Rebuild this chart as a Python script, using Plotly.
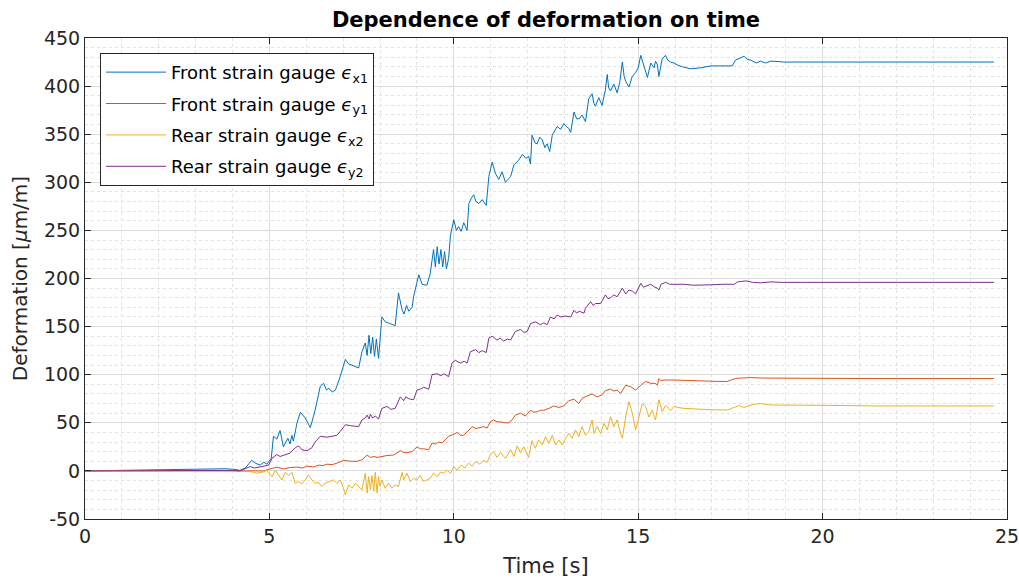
import plotly.graph_objects as go

# ---------------- data (time [s], deformation [um/m]) ----------------
series_names = [
    "Front strain gauge <i>ϵ</i><sub>x1</sub>",
    "Front strain gauge <i>ϵ</i><sub>y1</sub>",
    "Rear strain gauge <i>ϵ</i><sub>x2</sub>",
    "Rear strain gauge <i>ϵ</i><sub>y2</sub>",
]
series_colors = ["#0072BD", "#D95319", "#EDB120", "#7E2F8E"]

front_x1 = [(0,0),(0.5,0.3),(1.0,0),(1.5,0.4),(2.0,0.8),(2.3,1.5),(2.7,1.2),(3.0,1.8),(3.4,1.5),(3.8,2.2),(4.1,1.5),(4.2,0.5),(4.35,3),(4.52,11),(4.62,8),(4.75,6),(4.85,9),(4.93,7),(5.05,13),(5.11,36),(5.2,33),(5.29,42),(5.38,25),(5.45,30),(5.5,34),(5.56,28),(5.61,37),(5.65,31),(5.75,50),(5.84,61),(5.97,55),(6.11,45),(6.24,63),(6.38,88),(6.47,91),(6.55,84),(6.61,86),(6.7,82),(6.79,84),(6.92,98),(7.06,116),(7.15,111),(7.24,110),(7.42,107),(7.51,124),(7.6,133),(7.65,120),(7.7,141),(7.75,122),(7.8,139),(7.85,119),(7.9,137),(7.96,117),(8.05,160),(8.14,155),(8.28,153),(8.41,151),(8.5,185),(8.6,167),(8.65,163),(8.72,172),(8.78,166),(8.87,170),(8.91,181),(9.05,204),(9.14,194),(9.27,193),(9.36,205),(9.45,230),(9.5,212),(9.55,233),(9.6,215),(9.65,230),(9.7,212),(9.75,228),(9.8,210),(9.86,221),(9.91,245),(10.0,261),(10.07,250),(10.13,254),(10.2,249),(10.27,258),(10.36,250),(10.41,278),(10.48,284),(10.54,287),(10.6,280),(10.68,278),(10.77,282),(10.88,276),(10.95,306),(11.04,321),(11.13,309),(11.22,303),(11.31,311),(11.4,300),(11.47,303),(11.54,306),(11.63,318),(11.7,321),(11.76,323),(11.86,329),(11.95,325),(12.03,327),(12.08,319),(12.12,349),(12.2,341),(12.26,340),(12.33,347),(12.4,344),(12.47,336),(12.53,340),(12.6,332),(12.67,349),(12.8,358),(12.9,355),(12.98,361),(13.05,358),(13.12,356),(13.17,352),(13.26,373),(13.33,366),(13.4,366),(13.48,370),(13.57,363),(13.66,387),(13.75,392),(13.8,382),(13.84,379),(13.93,388),(14.02,380),(14.11,396),(14.16,412),(14.2,398),(14.25,395),(14.34,402),(14.43,393),(14.5,404),(14.57,425),(14.62,410),(14.66,405),(14.75,399),(14.84,410),(14.93,414),(15.0,419),(15.07,432),(15.16,420),(15.25,409),(15.34,424),(15.43,419),(15.47,426),(15.52,422),(15.56,410),(15.65,428),(15.74,432),(15.8,427),(15.88,425),(15.97,424),(16.06,422),(16.2,420),(16.42,418),(16.69,419),(16.97,421),(17.3,421),(17.55,421),(17.64,427),(17.75,429),(17.87,431),(17.95,428),(18.05,427),(18.2,424),(18.32,426),(18.45,424),(18.6,426),(18.95,425),(19.5,425),(20,425),(21,425),(22,425),(23,425),(24,425),(24.65,425)]

front_y1 = [(0,0),(1,0),(2,0.3),(3,0),(4,0.2),(4.5,0),(4.84,0),(5.02,2),(5.2,4),(5.38,2),(5.56,3.5),(5.75,4),(5.9,3),(6.02,5),(6.2,4),(6.33,6),(6.45,5.5),(6.56,7),(6.7,6.5),(6.83,8),(7.01,11),(7.2,10),(7.38,10),(7.51,11.5),(7.65,16.5),(7.74,14),(7.83,15),(7.92,14),(8.05,15),(8.19,16),(8.37,16.5),(8.55,21),(8.64,19),(8.73,19),(8.87,20),(9.0,25),(9.09,23),(9.18,23),(9.32,22),(9.41,29),(9.5,28),(9.59,30),(9.68,29),(9.77,32),(9.86,36),(10.0,38),(10.09,40),(10.18,37),(10.27,37),(10.41,42.5),(10.5,46),(10.6,44),(10.68,44.5),(10.81,46),(10.9,44.5),(10.99,51),(11.08,53),(11.17,51),(11.27,51),(11.38,50),(11.49,50),(11.58,53),(11.67,58),(11.81,60),(11.94,57),(12.08,63),(12.17,61),(12.26,61.5),(12.35,63),(12.44,63),(12.58,65),(12.71,67.5),(12.85,66),(12.98,67.5),(13.12,73),(13.26,74.5),(13.39,70),(13.48,75.5),(13.62,78),(13.75,80),(13.89,77),(14.02,79),(14.11,83.5),(14.25,85),(14.34,83),(14.43,84),(14.52,80.5),(14.66,89),(14.8,87.5),(14.93,84),(15.07,89),(15.2,93),(15.34,91),(15.47,91),(15.52,89),(15.56,96),(15.61,94),(15.7,94.5),(15.97,94.5),(16.24,94),(16.6,94),(17.15,93),(17.42,93),(17.55,95),(17.69,96.3),(18.05,97),(18.4,96.5),(18.96,96.3),(19.5,96),(20.5,96),(21.5,96),(22.5,96),(23.5,96),(24.65,96)]

rear_x2 = [(0,0),(1,0.2),(2,0),(3,0.3),(4,0),(4.48,-0.7),(4.66,-2.4),(4.84,-1),(4.93,0.7),(5.07,-6),(5.16,0.7),(5.25,-5),(5.34,-9.4),(5.43,-1.4),(5.52,-5),(5.61,-1.4),(5.7,-12.8),(5.79,-11),(5.88,-13.5),(5.97,-9.4),(6.06,-4),(6.15,-9.4),(6.24,-12.8),(6.33,-12),(6.42,-16.3),(6.51,-12.8),(6.61,-11),(6.74,-9.4),(6.83,-12.8),(6.92,-9.4),(7.01,-18),(7.06,-25),(7.15,-14.5),(7.24,-18),(7.33,-12.8),(7.42,-16.3),(7.51,-19.7),(7.6,-2.4),(7.65,-23),(7.69,-6),(7.74,-19.7),(7.78,-5),(7.83,-21),(7.87,-1.4),(7.92,-23),(7.96,-6),(8.0,-16),(8.05,-9.4),(8.14,-18),(8.23,-12.8),(8.32,-18),(8.41,-14.5),(8.5,-16),(8.6,-1.4),(8.64,-9.4),(8.73,-2.4),(8.82,-11),(8.91,-7.7),(9.0,-9.4),(9.09,-5),(9.18,-11),(9.27,-9.4),(9.36,-7.7),(9.45,-2.4),(9.55,-6),(9.64,-1.4),(9.73,-2.4),(9.82,0.7),(9.91,-2.4),(10.0,4.5),(10.09,0.7),(10.2,6),(10.3,3),(10.4,8),(10.5,5),(10.6,10),(10.7,7),(10.8,11),(10.9,9),(10.99,16.6),(11.08,20),(11.17,14),(11.27,19),(11.4,13),(11.54,22),(11.63,15),(11.72,26),(11.81,19),(11.9,25),(12.03,14),(12.12,31.5),(12.21,23.5),(12.3,32),(12.4,27),(12.49,35.6),(12.58,28.6),(12.67,37),(12.76,27),(12.85,32),(12.94,27),(13.03,34),(13.12,39),(13.21,34),(13.3,42.6),(13.39,35.6),(13.48,46),(13.57,37),(13.66,41),(13.75,53),(13.8,39),(13.89,46),(13.98,39),(14.07,49.5),(14.16,42.6),(14.25,56.4),(14.34,46),(14.43,53),(14.52,39),(14.57,34),(14.66,56),(14.75,72),(14.84,60),(14.93,42.6),(15.02,56),(15.11,70),(15.2,67),(15.29,56),(15.38,63),(15.47,53),(15.56,74),(15.65,61.6),(15.74,68),(15.88,63),(15.97,67),(16.06,66),(16.24,65),(16.69,64),(17.0,63.5),(17.42,63.4),(17.6,66),(17.74,68),(17.85,66),(17.97,67),(18.1,69),(18.32,70),(18.6,68.5),(18.96,68.5),(19.5,68),(20.5,68),(21.5,67.5),(22.5,67.5),(23.5,67.5),(24.65,67.5)]

rear_y2 = [(0,0),(1,0.3),(2,0),(3,0.5),(4,0.5),(4.2,0),(4.35,2),(4.48,4.5),(4.6,3),(4.75,4),(4.9,5),(4.98,6),(5.07,13),(5.2,17),(5.29,15),(5.43,17),(5.56,18.5),(5.7,24),(5.79,26),(5.88,22),(6.02,21),(6.15,24),(6.24,30),(6.38,36),(6.56,35),(6.7,36),(6.83,37),(6.92,41),(7.06,48),(7.2,47),(7.42,46),(7.51,53),(7.6,55),(7.65,58),(7.7,54),(7.74,59),(7.8,55),(7.87,57),(7.96,54),(8.05,65),(8.19,67),(8.3,64),(8.41,65),(8.55,77),(8.64,73),(8.7,77),(8.78,75),(8.91,74),(9.0,84),(9.1,85),(9.18,87),(9.32,85),(9.41,100),(9.55,101),(9.65,99),(9.73,101),(9.86,98),(9.95,112),(10.04,115),(10.18,112),(10.28,114),(10.36,112),(10.45,124),(10.59,126),(10.68,123),(10.77,125),(10.88,123),(10.95,138),(11.04,140),(11.17,136),(11.26,138),(11.35,135),(11.45,137),(11.54,136),(11.67,145),(11.81,147),(11.9,144),(11.99,145),(12.08,153),(12.21,155),(12.35,152),(12.44,154),(12.53,152),(12.62,160),(12.72,158),(12.8,162),(12.9,160),(13.03,161),(13.17,160),(13.26,167),(13.33,164),(13.4,166),(13.53,164),(13.57,169),(13.71,176),(13.78,172),(13.84,174),(13.98,174),(14.11,183),(14.18,179),(14.25,180),(14.34,183),(14.43,181),(14.57,190),(14.66,184),(14.75,188),(14.84,187),(14.93,184),(15.07,195),(15.14,191),(15.2,192),(15.34,194),(15.45,191),(15.52,190),(15.56,188),(15.62,194),(15.74,196),(15.85,194),(15.97,194),(16.24,194),(16.5,193),(16.69,193),(17.0,193.5),(17.3,194),(17.6,194),(17.7,196.5),(17.92,197.5),(18.1,196),(18.32,195.5),(18.6,196.5),(18.87,196),(19.5,196),(20.5,196),(21.5,196),(22.5,196),(23.5,196),(24.65,196)]

y_tick_vals = [-50, 0, 50, 100, 150, 200, 250, 300, 350, 400, 450]
y_tick_text = ["-50", "0", "50", "100", "150", "200", "250", "300", "350", "400", "450"]
x_tick_vals = [0, 5, 10, 15, 20, 25]

# ---------------- figure ----------------
fig = go.Figure()
for i, (name, color, data) in enumerate(zip(series_names, series_colors,
                                            [front_x1, front_y1, rear_x2, rear_y2])):
    fig.add_trace(go.Scatter(
        x=[p[0] for p in data], y=[p[1] for p in data],
        mode="lines", name=name, legendgroup=f"g{i}",
        line=dict(color=color, width=1),
    ))

axis_common = dict(
    showline=True, linecolor="#262626", linewidth=1, mirror="ticks",
    ticks="inside", ticklen=6, tickcolor="#262626", tickwidth=1,
    showgrid=True, gridcolor="#dcdcdc", gridwidth=1,
    zeroline=False, automargin=False, ticklabeloverflow="allow",
    tickfont=dict(family="DejaVu Sans", size=19, color="#262626"),
)

fig.update_xaxes(
    range=[0, 25], tickvals=x_tick_vals,
    title=dict(text="Time [s]", font=dict(family="DejaVu Sans", size=21, color="#262626"), standoff=12),
    minor=dict(dtick=1, showgrid=True, gridcolor="#e2e2e2", griddash="dot", ticks=""),
    **axis_common,
)
fig.update_yaxes(
    range=[-50, 450], tickvals=y_tick_vals, ticktext=y_tick_text,
    title=dict(text="Deformation [<i>μ</i>m/m]", font=dict(family="DejaVu Sans", size=20, color="#262626"), standoff=10),
    minor=dict(dtick=10, showgrid=True, gridcolor="#e2e2e2", griddash="dot", ticks=""),
    **axis_common,
)

fig.update_layout(
    width=1019, height=581,
    margin=dict(l=85, r=12, t=38, b=62, autoexpand=False),
    paper_bgcolor="white", plot_bgcolor="white",
    title=dict(text="<b>Dependence of deformation on time</b>",
               font=dict(family="DejaVu Sans", size=21, color="black"),
               x=0.5, xref="paper", xanchor="center", y=1 - 20 / 581, yanchor="middle"),
    legend=dict(
        x=0.0163, y=0.969, xanchor="left", yanchor="top",
        bgcolor="white", bordercolor="#262626", borderwidth=1,
        font=dict(family="DejaVu Sans", size=18, color="black"),
        itemwidth=60, tracegroupgap=5,
    ),
    showlegend=True,
)

fig.write_html("out.html", config={"displayModeBar": False},
               post_script="document.body.style.margin='0';")
